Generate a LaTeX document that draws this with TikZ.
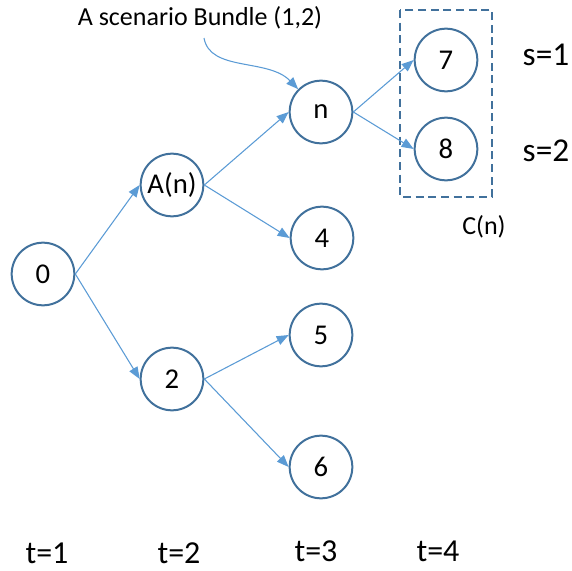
\documentclass[tikz,border=0pt]{standalone}
\usepackage{fontspec}
\setmainfont{Carlito}
\usetikzlibrary{arrows.meta}
\definecolor{nodeline}{RGB}{65,113,156}
\definecolor{arrowblue}{RGB}{91,155,213}
\begin{document}
\begin{tikzpicture}[x=0.75pt,y=-0.75pt,
  tnode/.style={circle,draw=nodeline,line width=1.5pt,minimum size=47pt,inner sep=0pt,font=\fontsize{21.5}{25}\selectfont},
  lbl/.style={font=\fontsize{19.5}{23}\selectfont,inner sep=0pt},
  biglbl/.style={font=\fontsize{24}{28}\selectfont,inner sep=0pt},
  conn/.style={draw=arrowblue,line width=0.8pt,-{Triangle[length=9pt,width=7pt]}}]
\useasboundingbox (0,0) rectangle (572,571);
\node[tnode] (n0) at (43,274) {0};
\node[tnode] (nA) at (172,185) {A(n)};
\node[tnode] (n2) at (172,379) {2};
\node[tnode] (nn) at (321,112) {n};
\node[tnode] (n4) at (322,238) {4};
\node[tnode] (n5) at (321,335) {5};
\node[tnode] (n6) at (321,467) {6};
\node[tnode] (n7) at (446,60) {7};
\node[tnode] (n8) at (446,149) {8};
\draw[nodeline,line width=1.3pt,dash pattern=on 6pt off 3.5pt] (400,10) rectangle (492,197);
\draw[conn] (n0.east) -- (nA.west);
\draw[conn] (n0.east) -- (n2.west);
\draw[conn] (nA.east) -- (nn.west);
\draw[conn] (nA.east) -- (n4.west);
\draw[conn] (n2.east) -- (n5.west);
\draw[conn] (n2.east) -- (n6.west);
\draw[conn] (nn.east) -- (n7.west);
\draw[conn] (nn.east) -- (n8.west);
\node[lbl] (bundle) at (200,18) {A scenario Bundle (1,2)};
\coordinate (cstart) at (204,38);
\draw[conn] (cstart) .. controls (210,72) and (268,58) .. (nn.north west);
\node[biglbl,font=\fontsize{25}{29}\selectfont] (s1) at (546,55) {s=1};
\node[biglbl,font=\fontsize{25}{29}\selectfont] (s2) at (546,151) {s=2};
\node[lbl] (cn) at (484,227) {C(n)};
\node[biglbl] (t1) at (47,553) {t=1};
\node[biglbl] (t2) at (179,553) {t=2};
\node[biglbl] (t3) at (316,551) {t=3};
\node[biglbl] (t4) at (438,551) {t=4};
\end{tikzpicture}
\end{document}
